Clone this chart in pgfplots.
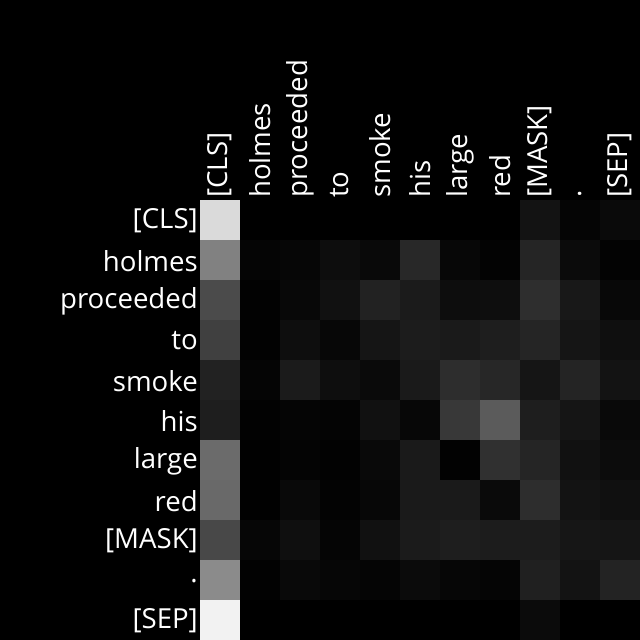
\documentclass[border=0pt]{standalone}
\usepackage{pgfplots}
\pgfplotsset{compat=1.18}
\usepackage{pgfplotstable}
\usepackage{fontspec}
\setmainfont{Open Sans}

% attention weights, grey level 0..255, row = query token, col = key token
\pgfplotstableread{
x y v
0 0 216
1 0 0
2 0 0
3 0 0
4 0 0
5 0 0
6 0 0
7 0 0
8 0 19
9 0 5
10 0 10
0 1 128
1 1 5
2 1 6
3 1 13
4 1 9
5 1 40
6 1 7
7 1 3
8 1 37
9 1 11
10 1 3
0 2 74
1 2 2
2 2 8
3 2 17
4 2 34
5 2 27
6 2 13
7 2 14
8 2 46
9 2 24
10 2 8
0 3 64
1 3 2
2 3 14
3 3 7
4 3 21
5 3 28
6 3 26
7 3 30
8 3 37
9 3 21
10 3 15
0 4 34
1 4 5
2 4 27
3 4 14
4 4 10
5 4 26
6 4 45
7 4 39
8 4 21
9 4 36
10 4 19
0 5 30
1 5 2
2 5 5
3 5 4
4 5 17
5 5 7
6 5 56
7 5 90
8 5 30
9 5 21
10 5 9
0 6 106
1 6 1
2 6 4
3 6 2
4 6 9
5 6 26
6 6 2
7 6 48
8 6 37
9 6 17
10 6 12
0 7 104
1 7 1
2 7 9
3 7 3
4 7 7
5 7 26
6 7 26
7 7 10
8 7 45
9 7 19
10 7 16
0 8 71
1 8 6
2 8 15
3 8 5
4 8 17
5 8 27
6 8 30
7 8 28
8 8 28
9 8 22
10 8 21
0 9 138
1 9 2
2 9 9
3 9 6
4 9 5
5 9 11
6 9 6
7 9 5
8 9 32
9 9 19
10 9 35
0 10 240
1 10 0
2 10 0
3 10 0
4 10 0
5 10 0
6 10 0
7 10 0
8 10 11
9 10 0
10 10 0
}\attn

\begin{document}
\begin{tikzpicture}
\fill[black] (0,0) rectangle (640pt,640pt);
\begin{axis}[
  at={(200pt,0pt)}, anchor=south west,
  width=440pt, height=440pt, scale only axis,
  xmin=-0.5, xmax=10.5, ymin=-0.5, ymax=10.5,
  y dir=reverse,
  enlargelimits=false,
  axis line style={draw=none},
  major tick length=0pt,
  xticklabel pos=top,
  xtick={0,...,10}, ytick={0,...,10},
  xticklabels={[CLS],holmes,proceeded,to,smoke,his,large,red,[MASK],.,[SEP]},
  yticklabels={[CLS],holmes,proceeded,to,smoke,his,large,red,[MASK],.,[SEP]},
  tick label style={text=white, font=\fontsize{27.6}{28}\selectfont, inner sep=2pt},
  xticklabel style={rotate=90, anchor=west},
  yticklabel style={anchor=east, yshift=-1pt},
  colormap={bw}{gray(0cm)=(0); gray(1cm)=(1)},
  point meta min=0, point meta max=255,
]
\addplot[matrix plot*, mesh/cols=11, point meta=explicit] table[x=x, y=y, meta=v] {\attn};
\end{axis}
\pgfresetboundingbox
\useasboundingbox (0,0) rectangle (640pt,640pt);
\end{tikzpicture}
\end{document}
